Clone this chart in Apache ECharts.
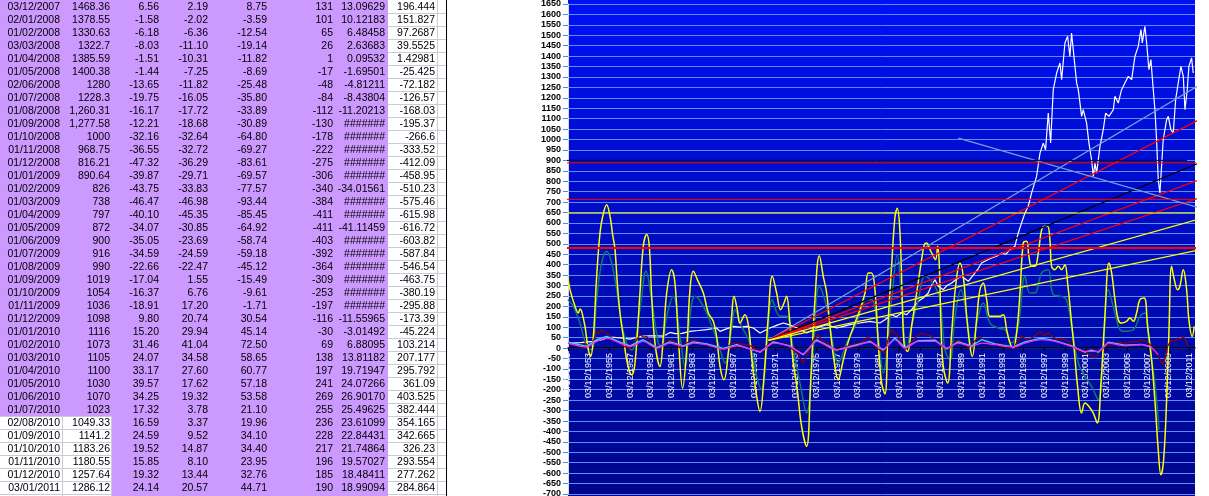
<!DOCTYPE html>
<html><head><meta charset="utf-8">
<script src="https://cdn.jsdelivr.net/npm/echarts/dist/echarts.min.js"></script>
<style>html,body{margin:0;padding:0;background:#fff;overflow:hidden}#c{width:1209px;height:496px}</style>
</head><body><div id="c"></div>
<script>
// ---------- TABLE DATA ----------
const tblDate = ['03/12/2007','02/01/2008','01/02/2008','03/03/2008','01/04/2008','01/05/2008','02/06/2008','01/07/2008','01/08/2008','01/09/2008','01/10/2008','01/11/2008','01/12/2008','01/01/2009','01/02/2009','01/03/2009','01/04/2009','01/05/2009','01/06/2009','01/07/2009','01/08/2009','01/09/2009','01/10/2009','01/11/2009','01/12/2009','01/01/2010','01/02/2010','01/03/2010','01/04/2010','01/05/2010','01/06/2010','01/07/2010','02/08/2010','01/09/2010','01/10/2010','01/11/2010','01/12/2010','03/01/2011'];
const tblClose = ['1468.36','1378.55','1330.63','1322.7','1385.59','1400.38','1280','1228.3','1,260.31','1,277.58','1000','968.75','816.21','890.64','826','738','797','872','900','916','990','1019','1054','1036','1098','1116','1073','1105','1100','1030','1070','1023','1049.33','1141.2','1183.26','1180.55','1257.64','1286.12'];
const tblChg1 = ['6.56','-1.58','-6.18','-8.03','-1.51','-1.44','-13.65','-19.75','-16.17','-12.21','-32.16','-36.55','-47.32','-39.87','-43.75','-46.47','-40.10','-34.07','-35.05','-34.59','-22.66','-17.04','-16.37','-18.91','9.80','15.20','31.46','24.07','33.17','39.57','34.25','17.32','16.59','24.59','19.52','15.85','19.32','24.14'];
const tblChg2 = ['2.19','-2.02','-6.36','-11.10','-10.31','-7.25','-11.82','-16.05','-17.72','-18.68','-32.64','-32.72','-36.29','-29.71','-33.83','-46.98','-45.35','-30.85','-23.69','-24.59','-22.47','1.55','6.76','17.20','20.74','29.94','41.04','34.58','27.60','17.62','19.32','3.78','3.37','9.52','14.87','8.10','13.44','20.57'];
const tblSum = ['8.75','-3.59','-12.54','-19.14','-11.82','-8.69','-25.48','-35.80','-33.89','-30.89','-64.80','-69.27','-83.61','-69.57','-77.57','-93.44','-85.45','-64.92','-58.74','-59.18','-45.12','-15.49','-9.61','-1.71','30.54','45.14','72.50','58.65','60.77','57.18','53.58','21.10','19.96','34.10','34.40','23.95','32.76','44.71'];
const tblOsc = ['131','101','65','26','1','-17','-48','-84','-112','-130','-178','-222','-275','-306','-340','-384','-411','-411','-403','-392','-364','-309','-253','-197','-116','-30','69','138','197','241','269','255','236','228','217','196','185','190'];
const tblRatio = ['13.09629','10.12183','6.48458','2.63683','0.09532','-1.69501','-4.81211','-8.43804','-11.20213','#######','#######','#######','#######','#######','-34.01561','#######','#######','-41.11459','#######','#######','#######','#######','#######','#######','-11.55965','-3.01492','6.88095','13.81182','19.71947','24.07266','26.90170','25.49625','23.61099','22.84431','21.74864','19.57027','18.48411','18.99094'];
const tblScaled = ['196.444','151.827','97.2687','39.5525','1.42981','-25.425','-72.182','-126.57','-168.03','-195.37','-266.6','-333.52','-412.09','-458.95','-510.23','-575.46','-615.98','-616.72','-603.82','-587.84','-546.54','-463.75','-380.19','-295.88','-173.39','-45.224','103.214','207.177','295.792','361.09','403.525','382.444','354.165','342.665','326.23','293.554','277.262','284.864'];

// ---------- CHART DATA ([chart year, value]) ----------
const xLabelPrefix = '03/12/';
const xFirstYear = 1951;
const yMin = -700, yMax = 1650, yStep = 50;

const indexLine = [[1951.00,22],[1952.2,26],[1953.45,32],[1954.3,40],[1955.06,53],[1955.7,50],[1956.34,48],[1956.99,43],[1957.95,56],[1958.8,58],[1959.56,59],[1960.2,57],[1960.85,75],[1961.33,69],[1962.0,70],[1962.78,80],[1963.6,84],[1964.39,88],[1965.35,96],[1965.68,80],[1966.3,92],[1966.96,104],[1967.6,100],[1968.25,104],[1968.90,96],[1969.54,72],[1970.50,96],[1971.2,110],[1971.79,120],[1972.3,112],[1972.76,104],[1973.4,90],[1974.04,72],[1975.01,96],[1975.98,112],[1976.94,96],[1977.6,104],[1978.23,112],[1979.19,120],[1980.16,128],[1981.13,120],[1981.61,136],[1982.25,160],[1982.7,150],[1983.22,168],[1983.7,160],[1984.18,184],[1984.83,224],[1985.3,240],[1985.79,264],[1986.1,300],[1986.44,328],[1986.76,296],[1987.24,280],[1987.6,300],[1988.05,312],[1988.5,330],[1989.01,344],[1989.66,320],[1990.30,360],[1990.6,380],[1990.94,408],[1991.4,420],[1991.91,432],[1992.4,440],[1992.87,456],[1993.3,450],[1993.68,472],[1994.16,488],[1994.48,552],[1994.8,600],[1995.13,648],[1995.45,680],[1995.77,744],[1996.25,823],[1996.58,935],[1996.90,983],[1997.12,951],[1997.38,1127],[1997.61,983],[1997.86,1239],[1998.19,1319],[1998.51,1367],[1998.67,1287],[1998.99,1463],[1999.25,1495],[1999.47,1399],[1999.63,1511],[1999.89,1383],[2000.12,1271],[2000.28,1239],[2000.60,1111],[2000.76,1143],[2001.08,1079],[2001.31,983],[2001.56,903],[2001.73,823],[2001.89,887],[2002.05,839],[2002.37,967],[2002.69,1047],[2002.92,1127],[2003.24,1111],[2003.66,1143],[2003.82,1207],[2004.14,1175],[2004.46,1239],[2004.78,1271],[2005.11,1303],[2005.43,1287],[2005.75,1399],[2006.07,1447],[2006.33,1527],[2006.46,1463],[2006.71,1543],[2006.88,1463],[2007.10,1335],[2007.29,1383],[2007.52,1239],[2007.68,1143],[2007.84,999],[2008.00,807],[2008.16,744],[2008.32,871],[2008.48,999],[2008.81,1095],[2008.97,1111],[2009.22,1047],[2009.45,1031],[2009.68,1191],[2009.93,1271],[2010.19,1351],[2010.42,1303],[2010.58,1143],[2010.80,1239],[2010.96,1351],[2011.22,1391],[2011.38,1319]];

const oscYellow = [[1951.00,336],[1951.19,280],[1951.68,200],[1952.00,168],[1952.16,187],[1952.32,176],[1952.64,104],[1952.96,-8],[1953.19,-40],[1953.45,56],[1953.77,344],[1954.09,552],[1954.35,631],[1954.73,687],[1955.06,631],[1955.31,544],[1955.54,472],[1955.76,312],[1956.02,168],[1956.34,56],[1956.66,-56],[1956.99,-120],[1957.15,-128],[1957.47,-72],[1957.95,264],[1958.27,488],[1958.60,544],[1958.85,488],[1959.08,248],[1959.40,24],[1959.88,-88],[1960.21,56],[1960.53,264],[1961.01,376],[1961.33,312],[1961.65,56],[1962.07,-192],[1962.46,-8],[1962.78,280],[1963.10,368],[1963.49,328],[1964.07,264],[1964.55,168],[1965.03,128],[1965.35,56],[1965.68,-88],[1966.06,-152],[1966.48,-24],[1966.80,152],[1967.03,248],[1967.35,184],[1967.61,120],[1968.09,160],[1968.41,112],[1968.73,-40],[1969.22,-232],[1969.54,-304],[1969.93,-136],[1970.34,152],[1970.73,344],[1971.15,264],[1971.53,184],[1971.86,216],[1972.11,248],[1972.37,152],[1972.69,-40],[1973.14,-200],[1973.56,-376],[1974.04,-472],[1974.43,-168],[1974.85,232],[1975.27,443],[1975.65,344],[1975.98,264],[1976.30,104],[1976.68,-56],[1977.10,-152],[1977.52,-72],[1977.84,-8],[1978.23,56],[1978.71,120],[1979.19,184],[1979.68,264],[1980.00,360],[1980.32,360],[1980.64,280],[1980.96,24],[1981.29,-168],[1981.61,-220],[1981.93,136],[1982.25,392],[1982.58,631],[1982.80,671],[1983.06,552],[1983.28,232],[1983.48,8],[1983.80,-16],[1984.18,104],[1984.67,264],[1985.15,424],[1985.41,496],[1985.63,504],[1985.96,472],[1986.28,440],[1986.50,424],[1986.70,488],[1986.86,392],[1987.02,104],[1987.24,-88],[1987.66,-168],[1988.05,72],[1988.43,296],[1988.85,408],[1989.17,344],[1989.50,152],[1989.82,8],[1990.04,-40],[1990.46,136],[1990.78,280],[1991.10,312],[1991.43,232],[1991.75,152],[1992.23,152],[1992.71,152],[1993.04,160],[1993.36,88],[1993.68,24],[1994.00,0],[1994.32,72],[1994.65,264],[1994.97,504],[1995.29,512],[1995.51,440],[1995.77,392],[1996.09,392],[1996.42,456],[1996.74,568],[1997.06,584],[1997.32,584],[1997.54,520],[1997.70,392],[1998.02,376],[1998.35,392],[1998.67,376],[1998.99,400],[1999.25,312],[1999.57,152],[1999.89,-8],[2000.21,-184],[2000.60,-312],[2000.92,-264],[2001.31,-280],[2001.73,-312],[2002.11,-360],[2002.47,-168],[2002.85,152],[2003.24,408],[2003.50,360],[2003.82,232],[2004.14,136],[2004.46,120],[2004.94,128],[2005.27,144],[2005.59,128],[2005.91,168],[2006.23,232],[2006.65,240],[2006.97,104],[2007.36,-56],[2007.74,-296],[2008.00,-488],[2008.26,-608],[2008.52,-536],[2008.81,-248],[2009.03,72],[2009.29,392],[2009.55,328],[2009.87,280],[2010.09,296],[2010.42,376],[2010.74,280],[2010.96,136],[2011.28,56],[2011.48,104]];

const oscTeal = [[1951.00,232],[1951.51,200],[1952.16,120],[1952.80,8],[1953.29,-8],[1953.77,232],[1954.25,408],[1954.73,464],[1955.22,408],[1955.70,280],[1956.18,120],[1956.66,24],[1957.15,-10],[1957.95,184],[1958.53,368],[1959.08,232],[1959.72,24],[1960.04,8],[1960.53,152],[1961.17,248],[1961.81,56],[1962.30,-88],[1962.78,152],[1963.26,248],[1964.07,200],[1965.03,88],[1965.68,-8],[1966.16,-72],[1966.80,88],[1967.12,184],[1967.77,104],[1968.57,24],[1969.22,-136],[1969.70,-200],[1970.18,-8],[1970.73,232],[1971.47,152],[1972.11,152],[1972.76,-8],[1973.40,-168],[1974.04,-312],[1974.69,-8],[1975.27,296],[1975.98,200],[1976.46,56],[1977.10,-72],[1977.91,24],[1978.87,120],[1979.84,232],[1980.32,232],[1980.96,56],[1981.45,-120],[1981.75,-40],[1982.25,232],[1982.80,448],[1983.22,232],[1983.70,0],[1984.18,104],[1984.83,232],[1985.47,344],[1986.44,296],[1986.92,232],[1987.40,-8],[1987.89,-56],[1988.37,152],[1988.95,280],[1989.50,152],[1989.98,0],[1990.62,152],[1991.10,216],[1991.75,120],[1992.55,96],[1993.20,88],[1993.84,24],[1994.48,104],[1995.13,344],[1995.61,264],[1996.09,264],[1996.74,360],[1997.38,376],[1997.86,256],[1998.67,248],[1999.15,232],[1999.63,104],[2000.28,-72],[2000.92,-136],[2001.56,-184],[2002.21,-248],[2002.69,-8],[2003.17,280],[2003.82,168],[2004.30,88],[2004.78,80],[2005.59,88],[2006.23,152],[2006.71,168],[2007.20,-8],[2007.68,-168],[2008.07,-392]];

const chgMaroon = [[1951.00,24],[1951.6,14],[1952.16,16],[1952.6,22],[1953.12,8],[1953.5,40],[1953.77,80],[1954.0,70],[1954.25,88],[1954.5,76],[1954.73,72],[1955.0,60],[1955.38,40],[1955.9,30],[1956.34,8],[1956.99,0],[1957.5,30],[1957.95,64],[1958.3,52],[1958.60,56],[1959.24,8],[1959.88,8],[1960.4,24],[1960.85,40],[1961.3,30],[1961.81,0],[1962.46,24],[1963.10,40],[1963.6,30],[1964.07,24],[1964.7,16],[1965.35,8],[1966.00,-8],[1966.5,10],[1966.96,24],[1967.6,20],[1968.25,16],[1968.9,4],[1969.54,-24],[1970.0,0],[1970.50,24],[1971.0,30],[1971.47,24],[1972.1,16],[1972.76,-8],[1973.2,-30],[1973.72,-72],[1974.2,-20],[1974.69,40],[1975.17,64],[1975.5,40],[1975.98,24],[1976.5,4],[1976.94,-16],[1977.4,0],[1977.91,8],[1978.5,16],[1979.19,24],[1979.6,36],[1980.00,56],[1980.4,30],[1980.80,0],[1981.2,-12],[1981.61,-24],[1981.9,40],[1982.25,88],[1982.6,70],[1982.90,56],[1983.2,20],[1983.54,-8],[1984.0,20],[1984.51,48],[1984.8,60],[1985.15,72],[1985.6,64],[1986.12,56],[1986.6,30],[1987.08,8],[1987.73,-8],[1988.2,20],[1988.69,40],[1989.2,20],[1989.66,0],[1990.2,30],[1990.78,56],[1991.3,30],[1991.91,16],[1992.4,24],[1992.87,16],[1993.4,10],[1994.00,0],[1994.4,30],[1994.81,56],[1995.3,40],[1995.77,48],[1996.2,64],[1996.58,80],[1997.0,60],[1997.38,72],[1997.9,50],[1998.35,40],[1998.8,44],[1999.31,32],[1999.7,10],[2000.12,-8],[2000.5,-16],[2000.92,-24],[2001.4,-30],[2001.89,-48],[2002.3,-20],[2002.69,0],[2003.2,16],[2003.82,24],[2004.3,28],[2004.78,24],[2005.4,30],[2006.07,32],[2006.5,40],[2007.04,24],[2007.4,6],[2007.84,-24],[2008.2,-60],[2008.48,-80],[2008.7,-40],[2008.90,8],[2009.29,40],[2009.6,30],[2009.93,48],[2010.2,40],[2010.42,56],[2010.7,30],[2010.90,8]];

const chgCyan = [[1951.00,28],[1952.80,8],[1953.77,40],[1954.73,56],[1956.02,28],[1956.99,10],[1958.27,40],[1959.56,2],[1960.85,30],[1962.14,10],[1963.10,30],[1964.39,20],[1966.00,-2],[1967.29,16],[1969.54,-20],[1970.83,30],[1972.44,10],[1973.72,-32],[1975.01,40],[1976.94,-10],[1978.55,12],[1980.16,32],[1981.45,-10],[1982.58,48],[1983.54,2],[1984.83,36],[1986.44,38],[1987.56,-4],[1988.69,30],[1989.98,10],[1990.94,40],[1992.23,20],[1994.00,6],[1995.13,30],[1996.74,48],[1998.02,36],[1999.63,10],[2000.92,-20],[2001.56,-10],[2002.21,-20],[2003.17,28],[2004.78,14],[2006.39,18],[2007.36,4]];

const avgMagenta = [[1951.00,24],[1952.80,5],[1953.77,32],[1954.73,48],[1956.02,24],[1956.99,8],[1958.27,32],[1959.56,0],[1960.85,24],[1962.14,8],[1963.10,24],[1964.39,16],[1966.00,-5],[1967.29,11],[1969.54,-16],[1970.83,24],[1972.44,8],[1973.72,-27],[1975.01,32],[1976.94,-8],[1978.55,8],[1980.16,27],[1981.45,-4],[1982.58,40],[1983.54,0],[1984.83,32],[1986.44,32],[1987.56,0],[1988.69,24],[1989.98,8],[1990.94,24],[1992.23,16],[1994.00,5],[1995.13,24],[1996.74,40],[1998.02,32],[1999.63,8],[2000.92,-16],[2002.21,-16],[2003.17,24],[2004.78,11],[2006.39,16],[2007.36,0],[2008.00,-32]];

// drawn trend / level lines
const trendBlueUp   = [[1970.34,37],[2012.85,1287]];
const trendRedHigh  = [[1970.34,37],[2012.85,1118]];
const trendBlack    = [[1970.34,37],[2012.85,906]];
const trendRedMid   = [[1970.34,37],[2012.85,823]];
const trendRedLow   = [[1970.34,37],[2012.85,735]];
const trendYellowHi = [[1970.34,37],[2012.85,631]];
const trendYellowLo = [[1970.34,37],[2012.85,480]];
const trendBlueDown = [[1988.7,1007],[2012.85,660]];
const levelBlack900 = [[1941.34,900],[2010.78,900]];
const levelRed888   = [[1943.63,888],[2012.85,888]];
const levelRed713   = [[1943.47,713],[2011.65,713]];
const levelYellow647= [[1943.08,647],[2012.85,647]];
const levelRed480   = [[1943.18,480],[2012.85,480]];

// ---------- BUILD ----------
const chart = echarts.init(document.getElementById('c'), null, {renderer:'canvas'});
const X0 = xFirstYear;
const xMaxU = 60.55;
const GRID_TOP = 4, GRID_BOTTOM = 2, H = 496;
const plotH = H - GRID_TOP - GRID_BOTTOM;
const zeroOffset = -plotH * (0 - yMin) / (yMax - yMin);

function ser(data, color, width, extra) {
  return Object.assign({
    type:'line', data: data.map(p => [p[0]-X0, p[1]]),
    symbol:'none', showSymbol:false, silent:true, animation:false,
    lineStyle:{color:color, width:width}, itemStyle:{color:color}
  }, extra || {});
}
const over = {clip:false, z:5};

// table graphics
const ROW0 = 6.7, ROWH = 13, NR = tblDate.length;
const colRight = [60, 110, 159, 208, 267, 333, 385, 435];
const cols = [tblDate, tblClose, tblChg1, tblChg2, tblSum, tblOsc, tblRatio, tblScaled];
const g = [];
g.push({type:'rect', z:-20, shape:{x:0,y:0,width:388,height:496}, style:{fill:'#CC99FF'}});
const whiteTop = ROW0 + 32*ROWH - 6.5;
g.push({type:'rect', z:-19, shape:{x:0,y:whiteTop,width:112,height:496-whiteTop}, style:{fill:'#FFFFFF'}});
g.push({type:'rect', z:-19, shape:{x:388,y:0,width:58,height:496}, style:{fill:'#FFFFFF'}});
g.push({type:'rect', z:-19, shape:{x:568,y:0,width:627,height:496}, style:{fill:{type:'linear',x:0,y:0,x2:0,y2:1,colorStops:[{offset:0,color:'#0010F4'},{offset:1,color:'#00068A'}]}}});
const gridCol = '#C6CCD8';
for (let i = 0; i < NR; i++) {
  const yb = Math.round(ROW0 + i*ROWH + 6.5) + 0.5;
  g.push({type:'line', z:-18, shape:{x1:388,y1:yb,x2:446,y2:yb}, style:{stroke:gridCol, lineWidth:1}});
  if (i >= 31) g.push({type:'line', z:-18, shape:{x1:0,y1:yb,x2:112,y2:yb}, style:{stroke:gridCol, lineWidth:1}});
}
g.push({type:'line', z:-18, shape:{x1:62.5,y1:whiteTop,x2:62.5,y2:496}, style:{stroke:gridCol, lineWidth:1}});
g.push({type:'line', z:-18, shape:{x1:111.5,y1:whiteTop,x2:111.5,y2:496}, style:{stroke:gridCol, lineWidth:1}});
g.push({type:'line', z:-18, shape:{x1:437.5,y1:0,x2:437.5,y2:496}, style:{stroke:gridCol, lineWidth:1}});
g.push({type:'line', z:-18, shape:{x1:446.5,y1:0,x2:446.5,y2:496}, style:{stroke:'#000', lineWidth:1}});
for (let c = 0; c < cols.length; c++) {
  for (let i = 0; i < NR; i++) {
    g.push({type:'text', z:-10, style:{text:cols[c][i], x:colRight[c], y:ROW0 + i*ROWH + 0.5, textAlign:'right', textVerticalAlign:'middle', font:'10.5px "Liberation Sans", Arial, sans-serif', fill:'#000'}});
  }
}

const option = {
  animation:false,
  backgroundColor:'#FFFFFF',
  graphic:{elements:g},
  grid:{left:568, right:14, top:GRID_TOP, bottom:GRID_BOTTOM, containLabel:false, outerBoundsMode:'none'},
  xAxis:{type:'value', min:0, max:xMaxU, interval:2, position:'bottom', offset:zeroOffset,
    axisLine:{onZero:false, lineStyle:{color:'#000', width:1.5}},
    axisTick:{show:true, length:3, lineStyle:{color:'#000'}},
    splitLine:{show:false},
    axisLabel:{rotate:90, color:'#FFFFFF', fontSize:9, fontFamily:'"Liberation Sans", Arial', margin:5, showMinLabel:true, showMaxLabel:false, hideOverlap:false,
      formatter: v => Math.abs(v - Math.round(v)) > 0.01 ? '' : xLabelPrefix + (X0 + Math.round(v))}
  },
  yAxis:{type:'value', min:yMin, max:yMax, interval:yStep,
    axisLine:{show:true, lineStyle:{color:'#D8D8D8'}},
    axisTick:{show:true, length:5, lineStyle:{color:'#3D8BFF'}},
    splitLine:{show:true, lineStyle:{color:'#5B8DFF', width:1}},
    axisLabel:{color:'#000', fontSize:9, fontWeight:'bold', fontFamily:'"Liberation Sans", Arial', margin:7, hideOverlap:false,
      formatter: v => String(v)}
  },
  series:[
    ser(indexLine, '#FFFFFF', 1.2, {z:2}),
    ser(oscTeal, '#0E7B6E', 1.5, {smooth:0.4, z:2}),
    ser(oscYellow, '#FFFF00', 1.5, {smooth:0.4, z:3}),
    ser(chgMaroon, '#8B0000', 1.3, {z:3}),
    ser(chgCyan, '#22E5FF', 1.3, {z:3}),
    ser(avgMagenta, '#FF22FF', 1.3, {smooth:0.3, z:3}),
    ser(trendBlueUp, '#7C9ED6', 1.2, over),
    ser(trendRedHigh, '#FF0000', 1.2, over),
    ser(trendBlack, '#000000', 1.2, over),
    ser(trendRedMid, '#FF0000', 1.2, over),
    ser(trendRedLow, '#FF0000', 1.2, over),
    ser(trendYellowHi, '#FFFF00', 1.2, over),
    ser(trendYellowLo, '#FFFF00', 1.2, over),
    ser(trendBlueDown, '#7C9ED6', 1.2, over),
    ser(levelBlack900, '#000000', 1, over),
    ser(levelRed888, '#FF0000', 1, over),
    ser(levelRed713, '#FF0000', 1, over),
    ser(levelYellow647, '#FFFF00', 1, over),
    ser(levelRed480, '#FF0000', 2, over)
  ]
};
chart.setOption(option);
</script>
</body></html>
